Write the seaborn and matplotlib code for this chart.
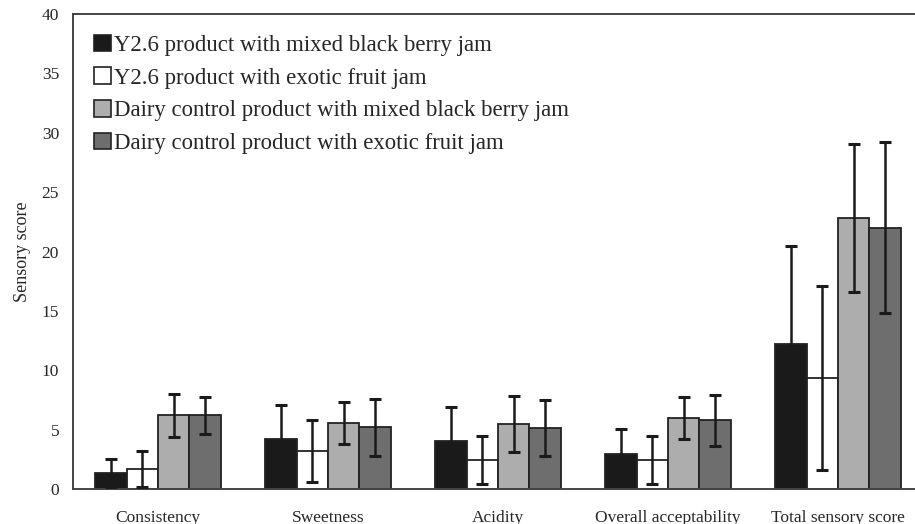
import numpy as np
import pandas as pd
import matplotlib
matplotlib.use("Agg")
import matplotlib.pyplot as plt
import seaborn as sns

attributes = ["Consistency", "Sweetness", "Acidity", "Overall acceptability", "Total sensory score"]
products = [
    "Y2.6 product with mixed black berry jam",
    "Y2.6 product with exotic fruit jam",
    "Dairy control product with mixed black berry jam",
    "Dairy control product with exotic fruit jam",
]

y26_berry = [1.35, 4.2, 4.05, 2.95, 12.2]
y26_exotic = [1.7, 3.2, 2.45, 2.45, 9.35]
dairy_berry = [6.2, 5.55, 5.45, 6.0, 22.8]
dairy_exotic = [6.2, 5.2, 5.15, 5.8, 22.0]

y26_berry_sd = [1.15, 2.9, 2.85, 2.1, 8.3]
y26_exotic_sd = [1.5, 2.6, 2.05, 2.0, 7.75]
dairy_berry_sd = [1.8, 1.77, 2.35, 1.75, 6.25]
dairy_exotic_sd = [1.55, 2.4, 2.35, 2.15, 7.2]

means = [y26_berry, y26_exotic, dairy_berry, dairy_exotic]
sds = [y26_berry_sd, y26_exotic_sd, dairy_berry_sd, dairy_exotic_sd]

df = pd.DataFrame({
    "attribute": np.repeat([attributes], 4, axis=0).ravel(),
    "product": np.repeat(products, len(attributes)),
    "score": np.concatenate(means),
    "sd": np.concatenate(sds),
})

sns.set_style("white")
plt.rcParams["font.family"] = ["Liberation Serif", "DejaVu Serif"]

colors = ["#1a1a1a", "#ffffff", "#adadad", "#6e6e6e"]

fig = plt.figure(figsize=(9.15, 5.24), dpi=100)
ax = fig.add_axes([73 / 915, 1 - 489 / 524, 842 / 915, 475 / 524])

sns.barplot(data=df, x="attribute", y="score", hue="product", order=attributes,
            hue_order=products, palette=colors, width=0.74, errorbar=None,
            edgecolor="#222222", linewidth=1.3, saturation=1, ax=ax)

# symmetric standard-deviation whiskers on each bar
for container, prod in zip(ax.containers, products):
    sub = df[df["product"] == prod].set_index("attribute").loc[attributes]
    xs = [p.get_x() + p.get_width() / 2 for p in container.patches]
    ax.errorbar(xs, sub["score"], yerr=sub["sd"], fmt="none", ecolor="#1a1a1a",
                elinewidth=1.8, capsize=4.5, capthick=2.2, zorder=5)

ax.set_ylim(0, 40)
ax.set_xlim(-0.5, 4.453)
ax.set_yticks(np.arange(0, 41, 5))
ax.set_xticks(range(len(attributes)))
ax.set_xticklabels(attributes, fontsize=12.5)
ax.tick_params(axis="x", length=0, pad=15)
ax.set_xticks(np.arange(0.5, 4.0, 1.0), minor=True)
ax.tick_params(axis="x", which="minor", direction="in", length=4, width=1, color="#555555")
ax.tick_params(axis="y", direction="in", length=4, width=1, color="#555555", labelsize=12.5, pad=10)
ax.set_xlabel("")
ax.set_ylabel("Sensory score", fontsize=13, labelpad=8)

for side in ["left", "bottom", "top"]:
    ax.spines[side].set_visible(True)
    ax.spines[side].set_color("#444444")
    ax.spines[side].set_linewidth(1.4)
ax.spines["right"].set_visible(False)

leg = ax.legend(loc="upper left", bbox_to_anchor=(0.006, 0.99), frameon=False,
                fontsize=16.4, handlelength=0.75, handleheight=0.75, handletextpad=0.15,
                labelspacing=0.5, borderaxespad=0.3)
for h in leg.legend_handles:
    h.set_edgecolor("#222222")
    h.set_linewidth(1.2)

fig.savefig("out.png", dpi=100)
